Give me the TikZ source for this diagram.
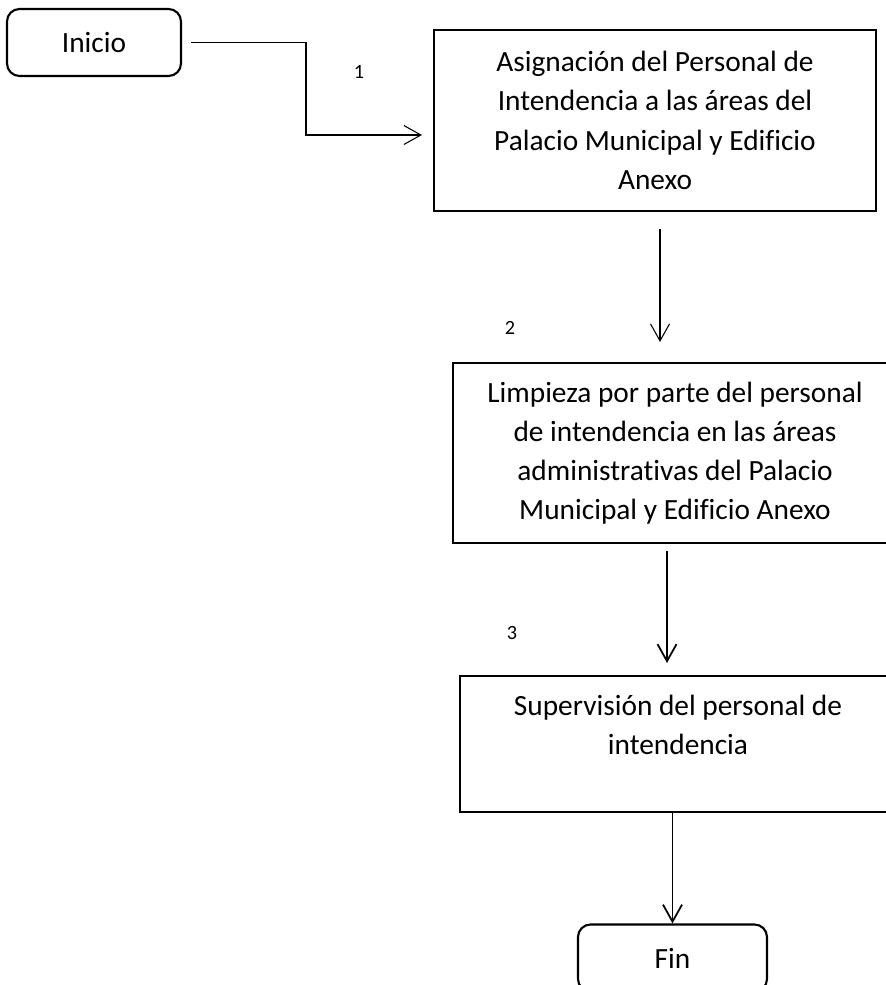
\documentclass[tikz,border=0pt]{standalone}
\usepackage{fontspec}
\setmainfont{Carlito}[Ligatures=NoCommon]
\usetikzlibrary{positioning,arrows.meta}

\begin{document}
\begin{tikzpicture}[>={Straight Barb[length=3.4mm,width=3.8mm]},
  proc/.style={draw,line width=1.2pt,align=center,inner sep=0pt,font=\fontsize{16.7}{22.3}\selectfont},
  term/.style={draw,line width=1.2pt,rounded corners=2.5mm,font=\fontsize{16.7}{22.3}\selectfont},
  paso/.style={font=\fontsize{11.5}{14}\selectfont},
  flow/.style={->,line width=0.6pt}]
\useasboundingbox (0,0) rectangle (17.7,-19.7);
\node[term,minimum width=3.48cm,minimum height=1.34cm] (ini) at (1.88,-0.85) {Inicio};
\node[proc,minimum width=8.84cm,minimum height=3.62cm] (asig) at (13.1,-2.41) {Asignación del Personal de\\Intendencia a las áreas del\\Palacio Municipal y Edificio\\Anexo};
\node[proc,minimum width=8.88cm,minimum height=3.6cm] (limp) at (13.5,-9.06) {Limpieza por parte del personal\\de intendencia en las áreas\\administrativas del Palacio\\Municipal y Edificio Anexo};
\node[proc,minimum width=8.72cm,minimum height=2.72cm] (sup) at (13.56,-14.88) {Supervisión del personal de\\intendencia\\\mbox{}};
\node[term,minimum width=3.78cm,minimum height=1.34cm] (fin) at (13.45,-19.16) {Fin};
\node[paso] (n1) at (7.18,-1.44) {1};
\node[paso] (n2) at (10.2,-6.56) {2};
\node[paso] (n3) at (10.24,-12.66) {3};
\coordinate (k1) at (6.12,-0.85);
\draw[flow,shorten <=0.18cm,shorten >=0.22cm] (ini.east |- k1) -- (k1) |- ([yshift=-0.29cm]asig.west);
\draw[flow,shorten <=0.34cm,shorten >=0.4cm] ([xshift=0.1cm]asig.south) -- ([xshift=0.1cm]asig.south |- limp.north);
\draw[flow,line width=1pt,shorten <=0.14cm,shorten >=0.24cm] ([xshift=-0.16cm]limp.south) -- ([xshift=-0.16cm]limp.south |- sup.north);
\draw[flow,line width=1pt] (sup.south -| fin) -- (fin.north);
\end{tikzpicture}
\end{document}
